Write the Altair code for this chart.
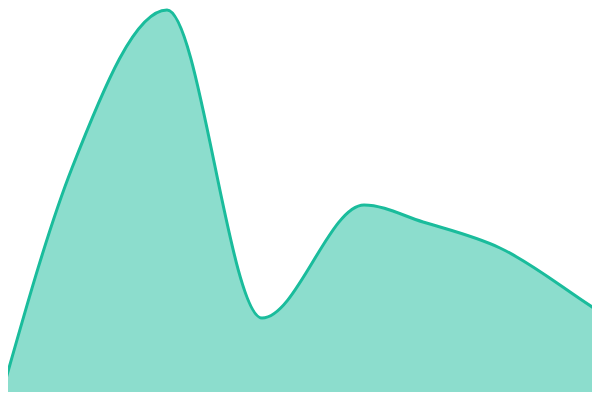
import altair as alt
import pandas as pd

xs = [0, 72, 167, 262, 364, 423, 500, 600, 680]
vals = [0, 232, 390, 82, 195, 178, 152, 88, 40]

df = pd.DataFrame({"x": xs, "v": vals})

chart = alt.Chart(df).mark_area(
    interpolate="monotone",
    color="#1abc9c",
    fillOpacity=0.5,
    line={"color": "#1abc9c", "strokeWidth": 3},
    clip=True,
).encode(
    x=alt.X("x:Q", scale=alt.Scale(domain=[8, 592], nice=False, zero=False), axis=None),
    y=alt.Y("v:Q", scale=alt.Scale(domain=[8, 392], nice=False, zero=False), axis=None),
).properties(width=584, height=384, padding=0).configure_view(stroke=None)

chart.save("out.html", embed_options={"renderer": "svg", "actions": False})
